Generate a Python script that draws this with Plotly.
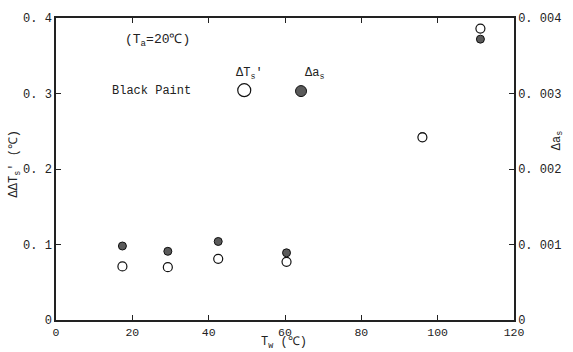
import plotly.graph_objects as go

# Data
tw = [17.4, 29.3, 42.5, 60.4, 96.0, 111.2]
delta_ts = [0.071, 0.070, 0.081, 0.077, 0.242, 0.386]          # open circles, left axis (°C)
delta_as = [0.00098, 0.00091, 0.00104, 0.00089, 0.00243, 0.00372]  # filled circles, right axis

x_ticks = [0, 20, 40, 60, 80, 100, 120]
y_ticks = [0, 0.1, 0.2, 0.3, 0.4]
y_tick_text = ["0", "0. 1", "0. 2", "0. 3", "0. 4"]
y2_ticks = [0, 0.001, 0.002, 0.003, 0.004]
y2_tick_text = ["0", "0. 001", "0. 002", "0. 003", "0. 004"]

FONT = "Liberation Mono"
INK = "#222222"

fig = go.Figure()
# right axis (Δa_s) is the base axis "y"; left axis (ΔT_s') overlays it so open circles sit on top
fig.add_trace(go.Scatter(
    x=tw, y=delta_as, yaxis="y", mode="markers", name="Δa_s",
    marker=dict(symbol="circle", size=8, color="#5a5a5a",
                line=dict(color="#111111", width=1)),
    showlegend=False))
fig.add_trace(go.Scatter(
    x=tw, y=delta_ts, yaxis="y2", mode="markers", name="ΔT_s'",
    marker=dict(symbol="circle", size=9, color="white",
                line=dict(color="#111111", width=1.2)),
    showlegend=False))

axis_common = dict(showgrid=False, zeroline=False, showline=True,
                   linecolor=INK, linewidth=1.5, ticks="inside",
                   ticklen=5, tickcolor=INK, tickwidth=1.2,
                   tickfont=dict(family=FONT, size=12, color=INK))

x_axis = dict(axis_common)
x_axis["tickfont"] = dict(family=FONT, size=11.5, color=INK)

fig.update_layout(
    width=573, height=352,
    margin=dict(l=56, r=57, t=14, b=32),
    paper_bgcolor="white", plot_bgcolor="white",
    font=dict(family=FONT, color=INK),
    xaxis=dict(range=[0, 120], tickvals=x_ticks, mirror="ticks", **x_axis),
    yaxis=dict(range=[0, 0.004], tickvals=y2_ticks, ticktext=y2_tick_text,
               side="right", **axis_common),
    yaxis2=dict(range=[0, 0.4], tickvals=y_ticks, ticktext=y_tick_text,
                overlaying="y", side="left", **axis_common),
)

ann = []
def add_text(text, x, y, size=12, angle=0):
    ann.append(dict(text=text, x=x, y=y, xref="paper", yref="paper",
                    showarrow=False, textangle=angle,
                    font=dict(family=FONT, size=size, color=INK),
                    xanchor="center", yanchor="middle"))

add_text("(T<sub>a</sub>=20℃)", 0.222, 0.925, 13)
add_text("Black Paint", 0.209, 0.758, 12)
add_text("ΔT<sub>s</sub>'", 0.422, 0.814, 12)
add_text("Δa<sub>s</sub>", 0.565, 0.814, 12)
add_text("T<sub>w</sub> (℃)", 0.498, -0.076, 12)
add_text("ΔΔT<sub>s</sub>' (℃)", -0.089, 0.516, 12, -90)
add_text("Δa<sub>s</sub>", 1.096, 0.595, 12, -90)
fig.update_layout(annotations=ann)

fig.update_layout(shapes=[
    dict(type="circle", xref="paper", yref="paper",
         xsizemode="pixel", ysizemode="pixel",
         xanchor=0.411, yanchor=0.761, x0=-6.5, x1=6.5, y0=-6.5, y1=6.5,
         line=dict(color="#111111", width=1.2), fillcolor="white"),
    dict(type="circle", xref="paper", yref="paper",
         xsizemode="pixel", ysizemode="pixel",
         xanchor=0.535, yanchor=0.758, x0=-5.5, x1=5.5, y0=-5.5, y1=5.5,
         line=dict(color="#111111", width=1), fillcolor="#5a5a5a"),
])

fig.write_html("out.html")
